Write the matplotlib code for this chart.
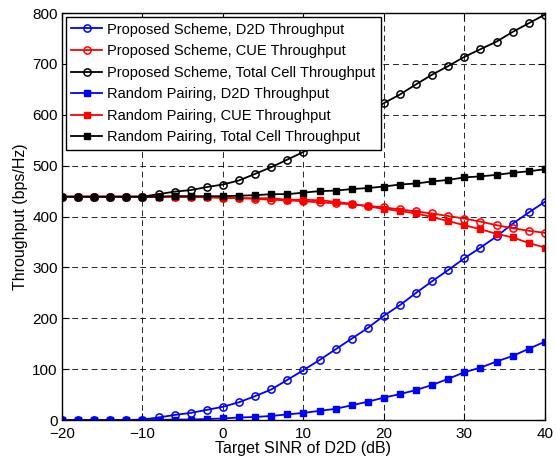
import numpy as np
import matplotlib
matplotlib.use("Agg")
import matplotlib.pyplot as plt

plt.rcParams['font.family'] = ['Liberation Sans', 'DejaVu Sans']

# Target SINR of D2D (dB)
sinr_db = list(range(-20, 41, 2))

# Proposed scheme
prop_d2d = [0, 0, 0, 0, 0, 1, 5, 10, 14, 20, 26, 35, 47, 60, 79, 98, 118, 139,
            160, 181, 205, 226, 250, 273, 295, 318, 339, 361, 386, 408, 429]
prop_cue = [439, 439, 439, 439, 439, 439, 439, 439, 438, 438, 437, 436, 435, 433,
            432, 430, 428, 426, 424, 421, 418, 414, 410, 406, 401, 396, 390, 383,
            377, 372, 368]
prop_total = [439, 439, 439, 439, 439, 439, 444, 449, 452, 458, 463, 471, 484, 497,
              512, 527, 546, 565, 584, 602, 623, 640, 660, 679, 696, 714, 729, 744,
              763, 780, 797]

# Random pairing
rand_d2d = [0, 0, 0, 0, 0, 0, 0, 1, 1, 2, 3, 5, 6, 8, 11, 14, 18, 22, 29, 36, 44,
            51, 59, 69, 81, 94, 103, 115, 126, 140, 154]
rand_cue = [439, 439, 439, 439, 439, 439, 439, 439, 439, 438, 437, 436, 436, 436,
            433, 433, 432, 429, 425, 420, 415, 411, 406, 399, 391, 383, 375, 366,
            359, 348, 339]
rand_total = [439, 439, 439, 439, 439, 439, 439, 440, 440, 440, 440, 441, 442, 444,
              444, 447, 450, 451, 454, 456, 459, 463, 465, 469, 472, 477, 479, 482,
              486, 489, 493]

x_ticks = [-20, -10, 0, 10, 20, 30, 40]
y_ticks = [0, 100, 200, 300, 400, 500, 600, 700, 800]

fig = plt.figure(figsize=(5.56, 4.67), dpi=100)
ax = fig.add_axes([0.1115, 0.1006, 0.8685, 0.8714])

lw = 1.3
ms_c = 5.2
ms_s = 4.4
open_kw = dict(marker='o', markersize=ms_c, markerfacecolor='none', markeredgewidth=1.1, linewidth=lw)
fill_kw = dict(marker='s', markersize=ms_s, linewidth=lw)

ax.plot(sinr_db, prop_d2d, color='#0000ff', label='Proposed Scheme, D2D Throughput', **open_kw)
ax.plot(sinr_db, prop_cue, color='#ff0000', label='Proposed Scheme, CUE Throughput', **open_kw)
ax.plot(sinr_db, prop_total, color='#000000', label='Proposed Scheme, Total Cell Throughput', **open_kw)
ax.plot(sinr_db, rand_d2d, color='#0000ff', label='Random Pairing, D2D Throughput', **fill_kw)
ax.plot(sinr_db, rand_cue, color='#ff0000', label='Random Pairing, CUE Throughput', **fill_kw)
ax.plot(sinr_db, rand_total, color='#000000', label='Random Pairing, Total Cell Throughput', **fill_kw)

ax.set_xlim(-20, 40)
ax.set_ylim(0, 800)
ax.set_xticks(x_ticks)
ax.set_yticks(y_ticks)
ax.tick_params(direction='in', length=5, width=0.8, top=True, right=True,
               labelsize=11)
ax.tick_params(axis='x', pad=5)
ax.tick_params(axis='y', pad=3)
ax.grid(True, color='black', linestyle=(0, (6, 4)), linewidth=0.7, alpha=0.85)
for sp in ax.spines.values():
    sp.set_linewidth(1.0)

ax.set_xlabel('Target SINR of D2D (dB)', fontsize=11.5, labelpad=0)
ax.set_ylabel('Throughput (bps/Hz)', fontsize=11.5, labelpad=3)

leg = ax.legend(loc='upper left', fontsize=10.5, frameon=True, fancybox=False,
                framealpha=1.0, edgecolor='black', handlelength=2.1,
                handletextpad=0.35, labelspacing=0.52, borderpad=0.35,
                borderaxespad=0.3)
leg.get_frame().set_linewidth(1.0)

fig.savefig('out.png', dpi=100)
